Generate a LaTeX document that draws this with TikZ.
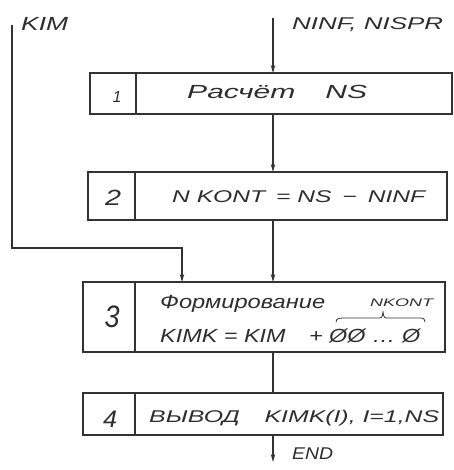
\documentclass[tikz,border=0pt]{standalone}
\usepackage{fontspec}
\setmainfont{Liberation Sans}
\usetikzlibrary{arrows.meta}
% stretch a hand-lettered line to a given width, keeping its height
\newcommand\hw[2]{\resizebox{#1}{\height}{#2}}
\begin{document}
\begin{tikzpicture}[x=1pt,y=-1pt,
  ink/.style={draw=black!80,line width=1.1pt},
  flow/.style={ink,-{Stealth[length=8pt,width=4.5pt]}},
  txt/.style={font=\itshape\fontsize{19}{21}\selectfont,text=black!82,inner sep=0pt,anchor=base west},
  small/.style={txt,font=\itshape\fontsize{17}{19}\selectfont},
  num/.style={text=black!82,inner sep=0pt,anchor=base}]
\useasboundingbox (0,0) rectangle (453,470);
% block outlines with number cells
\draw[ink] (90,73) rectangle (452,114) (136,73) -- (136,114);
\draw[ink] (88,172) rectangle (447,220) (135,172) -- (135,220);
\draw[ink] (83,282) rectangle (445,352) (135,282) -- (135,352);
\draw[ink] (83,393) rectangle (443,435) (135,393) -- (135,435);
% anchor points of the blocks
\coordinate (b1t) at (273,73);  \coordinate (b1b) at (273,114);
\coordinate (b2t) at (273,172); \coordinate (b2b) at (273,220);
\coordinate (b3t) at (273,282); \coordinate (b3b) at (273,352);
\coordinate (b3k) at (182,282);
\coordinate (b4t) at (273,393); \coordinate (b4b) at (273,435);
\coordinate (in) at (273,18);
\coordinate (kim) at (12,25);
\coordinate (out) at (273,462);
% block numbers
\node[num,font=\itshape\fontsize{16}{18}\selectfont] (n1) at (117,103) {1};
\node[num,font=\itshape\fontsize{22}{24}\selectfont] (n2) at (113,205) {\hw{16pt}{2}};
\node[num,font=\itshape\fontsize{31}{33}\selectfont] (n3) at (112,327) {\hw{15pt}{3}};
\node[num,font=\itshape\fontsize{24}{26}\selectfont] (n4) at (110,427) {\hw{14pt}{4}};
% block contents
\node[txt] (t1) at (187,99) {\hw{180pt}{Расчёт\quad NS}};
\node[small] (t2) at (172,202) {\hw{253pt}{N KONT \,= NS \,− \,NINF}};
\node[txt] (t3a) at (160,308) {\hw{165pt}{Формирование}};
\node[txt,font=\itshape\fontsize{11}{13}\selectfont] (t3n) at (370,306) {\hw{63pt}{NKONT}};
\node[txt] (t3b) at (160,342) {\hw{260pt}{KIMK = KIM\quad + ØØ … Ø}};
\draw[ink,line width=0.8pt] (336,322) .. controls (337,318) .. (350,318) -- (377,318)
  .. controls (382,318) .. (383,312) .. controls (384,318) .. (389,318) -- (418,318)
  .. controls (424,318) .. (425,322);
\node[small] (t4) at (149,422) {\hw{290pt}{ВЫВОД\quad KIMK(I), I=1,NS}};
% input and output labels
\node[txt] (l1) at (21,31) {\hw{47pt}{KIM}};
\node[small] (l2) at (292,30) {\hw{151pt}{NINF, NISPR}};
\node[small] (l3) at (292,459) {\hw{41pt}{END}};
% connectors
\draw[flow] (in) -- (b1t);
\draw[flow] (b1b) -- (b2t);
\draw[flow] (b2b) -- (b3t);
\draw[flow] (kim) |- (182,248) -- (b3k);
\draw[ink] (b3b) -- (b4t);
\draw[flow] (b4b) -- (out);
\end{tikzpicture}
\end{document}
